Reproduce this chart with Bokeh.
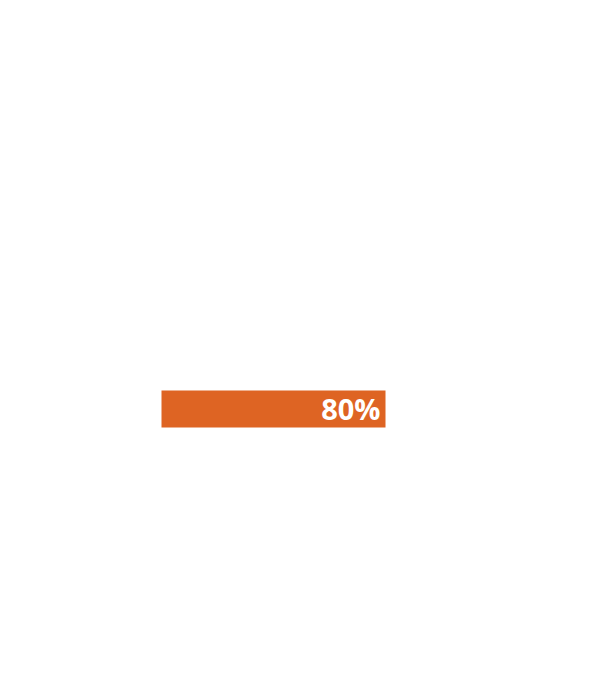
from bokeh.plotting import figure
from bokeh.models import ColumnDataSource, Range1d
from bokeh.core.properties import value
from bokeh.embed import file_html
from bokeh.resources import INLINE

categories = [0]
values = [80]
labels = ["80%"]

src = ColumnDataSource(dict(cat=categories, val=values, lab=labels))

p = figure(width=589, height=664, output_backend="svg", toolbar_location=None,
           x_range=Range1d(-161 / 2.8, (589 - 161) / 2.8),
           y_range=Range1d(-255.5, 408.5), min_border=0)
p.axis.visible = False
p.grid.visible = False
p.outline_line_color = None
p.background_fill_color = "white"
p.border_fill_color = "white"

p.hbar(y="cat", right="val", left=0, height=37, source=src,
       fill_color="#DE6423", line_color=None)
p.text(x="val", y="cat", text="lab", source=src, x_offset=-5, y_offset=-1,
       text_align="right", text_baseline="middle", text_color="white",
       text_font=value("Open Sans"), text_font_style="bold", text_font_size="29px")

open("out.html", "w").write(file_html(p, INLINE))
